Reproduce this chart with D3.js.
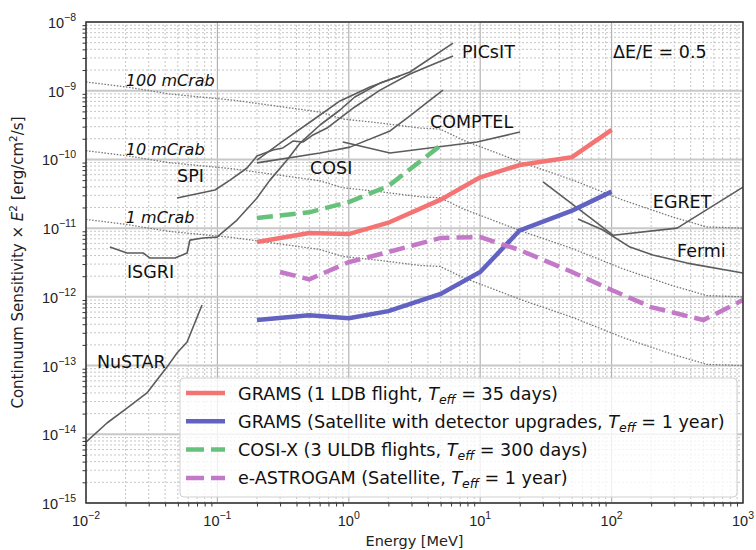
<!DOCTYPE html>
<html>
<head>
<meta charset="utf-8">
<script src="https://cdn.jsdelivr.net/npm/d3@7"></script>
<style>
body { margin: 0; background: #fff; }
svg { display: block; font-family: "DejaVu Sans", sans-serif; }
</style>
</head>
<body>
<svg id="chart" width="756" height="550"></svg>
<script>
// ---- values (energy in MeV, sensitivity in erg/cm2/s) ----
var crabE   = [0.01, 0.0205, 0.0436, 0.131, 0.6, 0.9, 1.73, 3.5, 4.95, 7.4, 21.2, 50.8, 122, 293, 532, 1000];
var crab100 = [1.34e-9, 1.13e-9, 8.95e-10, 7.3e-10, 4.9e-10, 3.87e-10, 3.39e-10, 2.86e-10, 2.77e-10, 1.91e-10, 8.87e-11, 5.0e-11, 2.56e-11, 1.45e-11, 1.04e-11, 1.0e-11];
var crabLevels = [100, 10, 1];

var nustarE = [0.01, 0.01445, 0.0205, 0.0291, 0.0413, 0.0493, 0.0588, 0.0764];
var nustarS = [7.7e-15, 1.46e-14, 2.4e-14, 4.0e-14, 9.5e-14, 1.52e-13, 2.2e-13, 7.6e-13];

var isgriE = [0.0152, 0.0205, 0.0272, 0.0307, 0.0476, 0.0588, 0.0618, 0.0776, 0.0993, 0.141, 0.2, 0.251, 0.339, 0.426, 0.604, 0.857, 1.11, 1.73, 2.45];
var isgriS = [5.3e-12, 4.35e-12, 4.35e-12, 3.67e-12, 3.67e-12, 4.35e-12, 6.7e-12, 7.2e-12, 7.4e-12, 1.31e-11, 2.74e-11, 5.0e-11, 9.8e-11, 1.73e-10, 3.17e-10, 5.24e-10, 8.1e-10, 1.29e-9, 1.64e-9];

var spiE = [0.0493, 0.0959, 0.1247, 0.168, 0.2, 0.265, 0.315, 0.376, 0.448, 0.534, 0.683, 0.857, 1.11, 1.73, 2.92, 6.21];
var spiS = [2.74e-11, 3.59e-11, 5.0e-11, 7.5e-11, 1.12e-10, 1.37e-10, 1.47e-10, 1.85e-10, 1.79e-10, 2.27e-10, 2.86e-10, 4.0e-10, 5.8e-10, 1.02e-9, 1.75e-9, 3.2e-9];

var picsitE = [0.2, 0.315, 0.534, 0.857, 1.45, 2.92, 6.21];
var picsitS = [9.8e-11, 1.85e-10, 3.75e-10, 7.1e-10, 1.13e-9, 1.87e-9, 4.94e-9];

var cosiE = [0.2, 0.604, 1.02, 2.06, 2.92, 4.15, 5.21];
var cosiS = [8.9e-11, 1.24e-10, 1.51e-10, 2.6e-10, 4.3e-10, 7.3e-10, 1.02e-9];

var comptelE = [0.903, 2.06, 9.46, 20.1];
var comptelS = [1.79e-10, 1.24e-10, 1.79e-10, 2.51e-10];

var egretE = [30.1, 102.5, 315, 1000];
var egretS = [4.7e-11, 7.9e-12, 1.0e-11, 3.96e-11];

var fermiE = [55.5, 86, 138, 206, 375, 1000];
var fermiS = [1.36e-11, 9.4e-12, 5.3e-12, 4.06e-12, 3.1e-12, 2.22e-12];

var gramsE   = [0.2, 0.5, 1, 2, 5, 10, 20, 50, 100];
var gramsLDB = [6.3e-12, 8.5e-12, 8.2e-12, 1.2e-11, 2.6e-11, 5.5e-11, 8.3e-11, 1.08e-10, 2.7e-10];
var gramsSat = [4.6e-13, 5.4e-13, 4.9e-13, 6.2e-13, 1.1e-12, 2.3e-12, 9.3e-12, 1.8e-11, 3.4e-11];

var cosixE = [0.2, 0.5, 1, 2, 5];
var cosixS = [1.4e-11, 1.7e-11, 2.4e-11, 4.1e-11, 1.6e-10];

var astrogamE = [0.3, 0.5, 1, 2, 5, 10, 20, 50, 100, 200, 500, 1000];
var astrogamS = [2.3e-12, 1.8e-12, 3.2e-12, 4.5e-12, 7.2e-12, 7.4e-12, 4.8e-12, 2.3e-12, 1.26e-12, 7.1e-13, 4.6e-13, 9e-13];

var legendPre  = ['GRAMS (1 LDB flight, ', 'GRAMS (Satellite with detector upgrades, ', 'COSI-X (3 ULDB flights, ', 'e-ASTROGAM (Satellite, '];
var legendPost = [' = 35 days)', ' = 1 year)', ' = 300 days)', ' = 1 year)'];

var instrumentNames = ['NuSTAR', 'ISGRI', 'SPI', 'COSI', 'PICsIT', 'COMPTEL', 'EGRET', 'Fermi'];
var instrumentLabelAt = [[0.0121, 9.2e-14], [0.0205, 1.88e-12], [0.0493, 4.7e-11], [0.507, 6.1e-11],
                         [7.26, 3.0e-9], [4.15, 2.86e-10], [206, 1.96e-11], [315, 3.8e-12]];
var crabLabelAt = [[0.0201, 1.17e-9], [0.0201, 1.16e-10], [0.0201, 1.19e-11]];

var xMajor = [1e-2, 1e-1, 1e0, 1e1, 1e2, 1e3];
var yMajor = [1e-15, 1e-14, 1e-13, 1e-12, 1e-11, 1e-10, 1e-9, 1e-8];

// ---- setup ----
var svg = d3.select('#chart');
var x = d3.scaleLog().domain([1e-2, 1e3]).range([86, 743]);
var y = d3.scaleLog().domain([1e-15, 1e-8]).range([503, 22]);
var x0 = x.range()[0], x1 = x.range()[1], y0 = y.range()[0], y1 = y.range()[1];

function minors(lo, hi) {
    var out = [];
    for (var d = lo; d < hi; d++)
        for (var k = 2; k < 10; k++) out.push(+(k + 'e' + d));
    return out;
}
var xMinor = minors(-2, 3);
var yMinor = minors(-15, -8);

var line = d3.line()
    .x(function(d) { return x(d[0]); })
    .y(function(d) { return y(d[1]); });

svg.append('defs').append('clipPath').attr('id', 'plot')
    .append('rect').attr('x', x0).attr('y', y1).attr('width', x1 - x0).attr('height', y0 - y1);

// ---- grid ----
var grid = svg.append('g');
grid.selectAll('.xmin').data(xMinor).join('line')
    .attr('x1', x).attr('x2', x).attr('y1', y0).attr('y2', y1)
    .attr('stroke', '#c0c0c0').attr('stroke-width', 0.9).attr('stroke-dasharray', '2,2');
grid.selectAll('.ymin').data(yMinor).join('line')
    .attr('y1', y).attr('y2', y).attr('x1', x0).attr('x2', x1)
    .attr('stroke', '#c0c0c0').attr('stroke-width', 0.9).attr('stroke-dasharray', '2,2');
grid.selectAll('.xmaj').data(xMajor).join('line')
    .attr('x1', x).attr('x2', x).attr('y1', y0).attr('y2', y1)
    .attr('stroke', '#b4b4b4').attr('stroke-width', 1.2);
grid.selectAll('.ymaj').data(yMajor).join('line')
    .attr('y1', y).attr('y2', y).attr('x1', x0).attr('x2', x1)
    .attr('stroke', '#c8c8c8').attr('stroke-width', 2);

var plot = svg.append('g').attr('clip-path', 'url(#plot)');

// ---- Crab reference lines ----
plot.selectAll('.crab').data(crabLevels).join('path')
    .attr('fill', 'none').attr('stroke', '#777').attr('stroke-width', 1.3)
    .attr('stroke-dasharray', '1.5,1.6')
    .attr('d', function(lv) {
        return line(d3.zip(crabE, crab100.map(function(s) { return s * lv / 100; })));
    });

// ---- other instruments ----
var others = [[nustarE, nustarS], [isgriE, isgriS], [spiE, spiS], [picsitE, picsitS],
              [cosiE, cosiS], [comptelE, comptelS], [egretE, egretS], [fermiE, fermiS]];
plot.selectAll('.inst').data(others).join('path')
    .attr('fill', 'none').attr('stroke', '#5c5c5c').attr('stroke-width', 1.6)
    .attr('stroke-linejoin', 'round')
    .attr('d', function(d) { return line(d3.zip(d[0], d[1])); });

// ---- main curves ----
var mainSeries = [
    {e: gramsE, s: gramsLDB, color: '#f47474', dash: null},
    {e: gramsE, s: gramsSat, color: '#6262c2', dash: null},
    {e: cosixE, s: cosixS, color: '#66c27a', dash: '16,7'},
    {e: astrogamE, s: astrogamS, color: '#c479c8', dash: '16,7'}
];
plot.selectAll('.main').data(mainSeries).join('path')
    .attr('fill', 'none').attr('stroke-width', 4.5)
    .attr('stroke', function(d) { return d.color; })
    .attr('stroke-dasharray', function(d) { return d.dash; })
    .attr('d', function(d) { return line(d3.zip(d.e, d.s)); });

// ---- annotations ----
svg.append('g').selectAll('text').data(instrumentNames).join('text')
    .attr('x', function(d, i) { return x(instrumentLabelAt[i][0]); })
    .attr('y', function(d, i) { return y(instrumentLabelAt[i][1]); })
    .attr('font-size', 17.5).attr('fill', '#111')
    .text(function(d) { return d; });

svg.append('g').selectAll('text').data(crabLevels).join('text')
    .attr('x', function(d, i) { return x(crabLabelAt[i][0]); })
    .attr('y', function(d, i) { return y(crabLabelAt[i][1]); })
    .attr('font-size', 16).attr('font-style', 'italic').attr('fill', '#111')
    .text(function(d) { return d + ' mCrab'; });

svg.append('text').attr('x', x(102.5)).attr('y', y(3.0e-9))
    .attr('font-size', 17.5).attr('fill', '#111').text('\u0394E/E = 0.5');

// ---- axes ----
var gx = svg.append('g').attr('transform', 'translate(0,' + y0 + ')');
gx.call(d3.axisBottom(x).tickValues(xMajor).tickSize(6).tickFormat(''));
gx.call(d3.axisBottom(x).tickValues(xMinor).tickSize(3.5).tickFormat(''));
var gy = svg.append('g').attr('transform', 'translate(' + x0 + ',0)');
gy.call(d3.axisLeft(y).tickValues(yMajor).tickSize(6).tickFormat(''));
gy.call(d3.axisLeft(y).tickValues(yMinor).tickSize(3.5).tickFormat(''));
svg.selectAll('.domain').remove();
svg.selectAll('.tick line').attr('stroke', '#333').attr('stroke-width', 1);

function powerLabel(sel, v) {
    var p = Math.round(Math.log10(v));
    sel.append('tspan').text('10');
    sel.append('tspan').attr('dy', -7).attr('font-size', 10.5)
        .text(p < 0 ? '\u2212' + (-p) : String(p));
}
gx.selectAll('.xlab').data(xMajor).join('text')
    .attr('x', x).attr('y', 23).attr('text-anchor', 'middle')
    .attr('font-size', 14.5).attr('fill', '#222')
    .each(function(v) { powerLabel(d3.select(this), v); });
gy.selectAll('.ylab').data(yMajor).join('text')
    .attr('x', -10).attr('y', function(v) { return y(v) + 6; }).attr('text-anchor', 'end')
    .attr('font-size', 14.5).attr('fill', '#222')
    .each(function(v) { powerLabel(d3.select(this), v); });

svg.append('rect').attr('x', x0).attr('y', y1).attr('width', x1 - x0).attr('height', y0 - y1)
    .attr('fill', 'none').attr('stroke', '#333').attr('stroke-width', 1.5);

svg.append('text').attr('x', (x0 + x1) / 2).attr('y', 546).attr('text-anchor', 'middle')
    .attr('font-size', 14.5).attr('fill', '#222').text('Energy [MeV]');

var yl = svg.append('text').attr('transform', 'translate(23,' + ((y0 + y1) / 2) + ') rotate(-90)')
    .attr('text-anchor', 'middle').attr('font-size', 15).attr('fill', '#222');
yl.append('tspan').text('Continuum Sensitivity \u00d7 ');
yl.append('tspan').attr('font-style', 'italic').text('E');
yl.append('tspan').attr('dy', -6).attr('font-size', 10.5).text('2');
yl.append('tspan').attr('dy', 6).text(' [erg/cm');
yl.append('tspan').attr('dy', -6).attr('font-size', 10.5).text('2');
yl.append('tspan').attr('dy', 6).text('/s]');

// ---- legend ----
var lg = svg.append('g').attr('transform', 'translate(180,378)');
lg.append('rect').attr('width', 557).attr('height', 119).attr('rx', 4)
    .attr('fill', '#fff').attr('fill-opacity', 0.8).attr('stroke', '#d0d0d0');
var rows = lg.selectAll('.row').data(mainSeries).join('g')
    .attr('transform', function(d, i) { return 'translate(0,' + (15 + i * 28.3) + ')'; });
rows.append('line').attr('x1', 6).attr('x2', 45).attr('y1', 0).attr('y2', 0)
    .attr('stroke-width', 4.5)
    .attr('stroke', function(d) { return d.color; })
    .attr('stroke-dasharray', function(d) { return d.dash ? '18,7' : null; });
rows.append('text').attr('x', 58).attr('y', 6.5).attr('font-size', 17.6).attr('fill', '#111')
    .each(function(d, i) {
        var t = d3.select(this);
        t.append('tspan').text(legendPre[i]);
        t.append('tspan').attr('font-style', 'italic').text('T');
        t.append('tspan').attr('font-style', 'italic').attr('font-size', 12.5).attr('dy', 4).text('eff');
        t.append('tspan').attr('dy', -4).text(legendPost[i]);
    });
</script>
</body>
</html>
